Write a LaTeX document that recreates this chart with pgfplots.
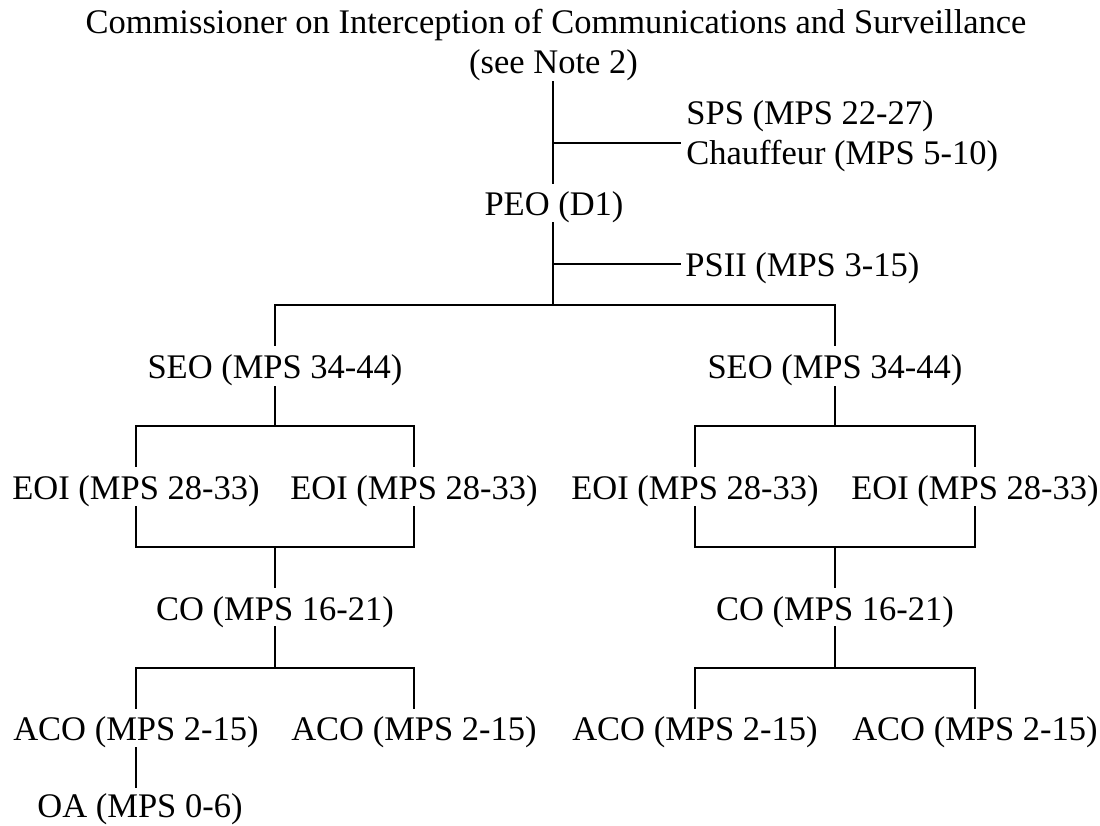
\documentclass[border=0pt]{standalone}
\usepackage{fontspec}
\setmainfont{Liberation Serif}
\usepackage{pgfplots}
\pgfplotsset{compat=1.18}
\tikzset{
  vline/.style={black, line cap=rect, line width=0.8pt},
  hline/.style={black, line cap=rect, line width=1.1pt},
  lab/.style={anchor=base, inner sep=0pt, font=\fontsize{17.25}{20}\selectfont},
  labw/.style={anchor=base west, inner sep=0pt, font=\fontsize{17.25}{20}\selectfont},
}
\begin{document}
\begin{tikzpicture}
\begin{axis}[
  width=550pt, height=413pt, scale only axis,
  xmin=0, xmax=1100, ymin=0, ymax=826, y dir=reverse,
  hide axis, clip=false,
]
\addplot[draw=none] coordinates {(0,0) (1100,826)};
% vertical connectors
\addplot[vline] coordinates {(553,82) (553,183)};
\addplot[vline] coordinates {(553,223) (553,305)};
\addplot[vline] coordinates {(275,305) (275,345)};
\addplot[vline] coordinates {(835,305) (835,345)};
\addplot[vline] coordinates {(275,387) (275,426)};
\addplot[vline] coordinates {(835,387) (835,426)};
\addplot[vline] coordinates {(136,426) (136,466)};
\addplot[vline] coordinates {(414,426) (414,466)};
\addplot[vline] coordinates {(695,426) (695,466)};
\addplot[vline] coordinates {(975,426) (975,466)};
\addplot[vline] coordinates {(136,507) (136,547)};
\addplot[vline] coordinates {(414,507) (414,547)};
\addplot[vline] coordinates {(695,507) (695,547)};
\addplot[vline] coordinates {(975,507) (975,547)};
\addplot[vline] coordinates {(275,547) (275,587)};
\addplot[vline] coordinates {(835,547) (835,587)};
\addplot[vline] coordinates {(275,627) (275,668)};
\addplot[vline] coordinates {(835,627) (835,668)};
\addplot[vline] coordinates {(136,668) (136,708)};
\addplot[vline] coordinates {(414,668) (414,708)};
\addplot[vline] coordinates {(695,668) (695,708)};
\addplot[vline] coordinates {(975,668) (975,708)};
\addplot[vline] coordinates {(136,748) (136,787)};
% horizontal connectors
\addplot[hline] coordinates {(553,143) (680,143)};
\addplot[hline] coordinates {(553,264) (680,264)};
\addplot[hline] coordinates {(275,305) (835,305)};
\addplot[hline] coordinates {(136,426) (414,426)};
\addplot[hline] coordinates {(695,426) (975,426)};
\addplot[hline] coordinates {(136,547) (414,547)};
\addplot[hline] coordinates {(695,547) (975,547)};
\addplot[hline] coordinates {(136,668) (414,668)};
\addplot[hline] coordinates {(695,668) (975,668)};
% labels
\node[lab] at (axis cs:556,33) {Commissioner on Interception of Communications and Surveillance};
\node[lab] at (axis cs:553.5,73) {(see Note 2)};
\node[labw] at (axis cs:686,124) {SPS (MPS 22-27)};
\node[labw] at (axis cs:686,164) {Chauffeur (MPS 5-10)};
\node[lab] at (axis cs:554,215) {PEO (D1)};
\node[labw] at (axis cs:685,276) {PSII (MPS 3-15)};
\node[lab] at (axis cs:275,378) {SEO (MPS 34-44)};
\node[lab] at (axis cs:835,378) {SEO (MPS 34-44)};
\node[lab] at (axis cs:136,499) {EOI (MPS 28-33)};
\node[lab] at (axis cs:414,499) {EOI (MPS 28-33)};
\node[lab] at (axis cs:695,499) {EOI (MPS 28-33)};
\node[lab] at (axis cs:975,499) {EOI (MPS 28-33)};
\node[lab] at (axis cs:275,620) {CO (MPS 16-21)};
\node[lab] at (axis cs:835,620) {CO (MPS 16-21)};
\node[lab] at (axis cs:136,740) {ACO (MPS 2-15)};
\node[lab] at (axis cs:414,740) {ACO (MPS 2-15)};
\node[lab] at (axis cs:695,740) {ACO (MPS 2-15)};
\node[lab] at (axis cs:975,740) {ACO (MPS 2-15)};
\node[lab] at (axis cs:140,817) {OA (MPS 0-6)};
\end{axis}
\end{tikzpicture}
\end{document}
